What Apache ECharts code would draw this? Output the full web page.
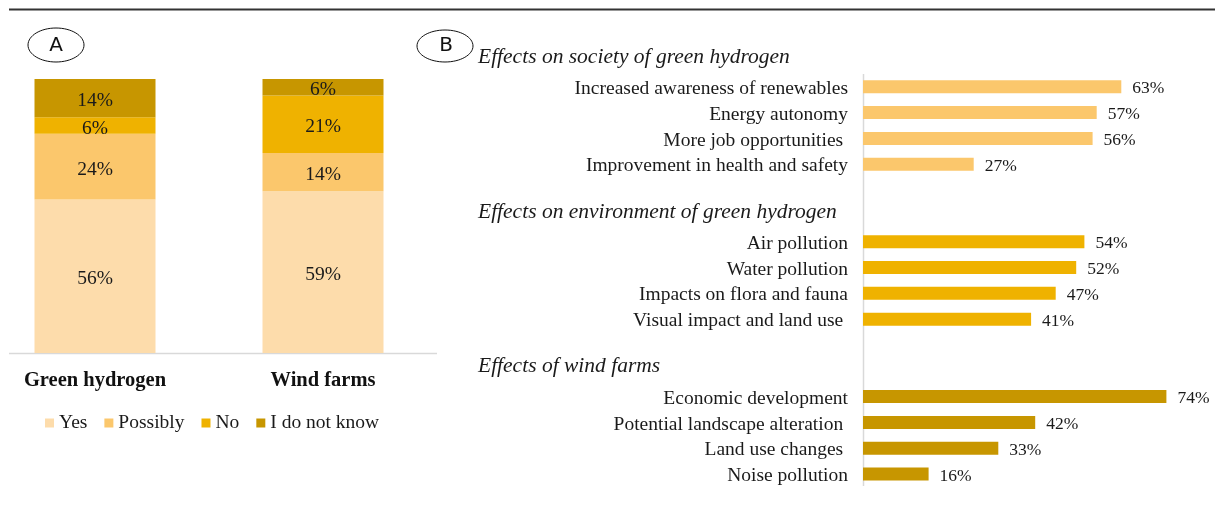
<!DOCTYPE html>
<html>
<head>
<meta charset="utf-8">
<script src="https://cdn.jsdelivr.net/npm/echarts@6/dist/echarts.min.js"></script>
<style>
  html, body { margin: 0; padding: 0; background: #fff; }
  #chart { width: 1215px; height: 513px; }
</style>
</head>
<body>
<div id="chart"></div>
<script>
// panel A
var groups = ['Green hydrogen', 'Wind farms'];
var answers = ['Yes', 'Possibly', 'No', 'I do not know'];
var yesValues = [56, 59];
var possiblyValues = [24, 14];
var noValues = [6, 21];
var unknownValues = [14, 6];

// panel B
var societyHeader = 'Effects on society of green hydrogen';
var societyItems = ['Increased awareness of renewables', 'Energy autonomy', 'More job opportunities ', 'Improvement in health and safety'];
var societyValues = [63, 57, 56, 27];
var environmentHeader = 'Effects on environment of green hydrogen';
var environmentItems = ['Air pollution', 'Water pollution', 'Impacts on flora and fauna', 'Visual impact and land use '];
var environmentValues = [54, 52, 47, 41];
var windHeader = 'Effects of wind farms';
var windItems = ['Economic development', 'Potential landscape alteration ', 'Land use changes ', 'Noise pollution'];
var windValues = [74, 42, 33, 16];

var answerColors = ['#FDDCAB', '#FBC76C', '#EFB200', '#C79600'];
var sectionColors = ['#FBC76C', '#EFB200', '#C79600'];
var serif = '"Liberation Serif", "DejaVu Serif", serif';

var myChart = echarts.init(document.getElementById('chart'));

// rows of panel B: header, 4 items, blank, header, 4 items, blank, header, 4 items
var rows = [];
var headerRows = {};
var sections = [
  [societyHeader, societyItems, societyValues],
  [environmentHeader, environmentItems, environmentValues],
  [windHeader, windItems, windValues]
];
var sectionData = [[], [], []];
sections.forEach(function (s, si) {
  if (si > 0) {
    rows.push(' '.repeat(si));
    sectionData.forEach(function (d) { d.push('-'); });
  }
  headerRows[s[0]] = true;
  rows.push(s[0]);
  sectionData.forEach(function (d) { d.push('-'); });
  s[1].forEach(function (name, i) {
    rows.push(name);
    sectionData.forEach(function (d, di) { d.push(di === si ? s[2][i] : '-'); });
  });
});

var pctLabel = function (p) { return p.value + '%'; };

var seriesA = [yesValues, possiblyValues, noValues, unknownValues].map(function (vals, i) {
  return {
    name: answers[i],
    type: 'bar',
    stack: 'a',
    xAxisIndex: 0,
    yAxisIndex: 0,
    barWidth: 121,
    itemStyle: { color: answerColors[i] },
    label: {
      show: true,
      position: 'inside',
      offset: [0, 3],
      formatter: pctLabel,
      fontFamily: serif,
      fontSize: 19.5,
      color: '#1a1a1a'
    },
    data: vals
  };
});

var seriesB = sectionData.map(function (vals, i) {
  return {
    name: 'section' + i,
    type: 'bar',
    stack: 'b',
    xAxisIndex: 1,
    yAxisIndex: 1,
    barWidth: 13,
    itemStyle: { color: sectionColors[i] },
    label: {
      show: true,
      position: 'right',
      distance: 11,
      offset: [0, 2],
      formatter: pctLabel,
      fontFamily: serif,
      fontSize: 17.5,
      color: '#1a1a1a'
    },
    data: vals
  };
});

var option = {
  backgroundColor: '#fff',
  animation: false,
  legend: {
    data: answers,
    left: 40,
    top: 408,
    itemWidth: 9,
    itemHeight: 9,
    itemGap: 17,
    icon: 'rect',
    textStyle: { fontFamily: serif, fontSize: 19.5, color: '#1a1a1a' }
  },
  grid: [
    { left: -19, top: 79, width: 456, height: 274, outerBoundsMode: 'none', containLabel: false },
    { left: 863, top: 48, width: 328, height: 439, outerBoundsMode: 'none', containLabel: false }
  ],
  xAxis: [{
    type: 'category',
    gridIndex: 0,
    data: groups,
    axisLine: { show: false },
    axisTick: { show: false },
    axisLabel: {
      margin: 17,
      fontFamily: serif,
      fontSize: 20.5,
      fontWeight: 'bold',
      color: '#111'
    }
  }, {
    type: 'value',
    gridIndex: 1,
    min: 0,
    max: 80,
    show: false
  }],
  yAxis: [{
    type: 'value',
    gridIndex: 0,
    min: 0,
    max: 100,
    show: false
  }, {
    type: 'category',
    gridIndex: 1,
    inverse: true,
    data: rows,
    axisLine: { show: false },
    axisTick: { show: false },
    axisLabel: {
      margin: 15,
      interval: 0,
      fontFamily: serif,
      fontSize: 19.5,
      color: '#1a1a1a',
      formatter: function (v) {
        return headerRows[v] ? '{h|' + v + '}' : '{t|' + v + '}';
      },
      rich: {
        t: {
          fontFamily: serif,
          fontSize: 19.5,
          color: '#1a1a1a',
          padding: [4, 0, 0, 0]
        },
        h: {
          width: 370,
          align: 'left',
          fontFamily: serif,
          fontSize: 21.5,
          fontStyle: 'italic',
          color: '#1a1a1a',
          padding: [0, 0, 8, 0]
        }
      }
    }
  }],
  graphic: [
    { type: 'line', shape: { x1: 9, y1: 9.5, x2: 1215, y2: 9.5 }, style: { stroke: '#333', lineWidth: 2 } },
    { type: 'line', shape: { x1: 9, y1: 353.5, x2: 437, y2: 353.5 }, style: { stroke: '#d9d9d9', lineWidth: 1.5 } },
    { type: 'line', shape: { x1: 863.5, y1: 74, x2: 863.5, y2: 486 }, style: { stroke: '#d9d9d9', lineWidth: 1.5 } },
    { type: 'ellipse', shape: { cx: 56, cy: 45, rx: 28, ry: 17 }, style: { fill: '#fff', stroke: '#111', lineWidth: 1 } },
    { type: 'text', x: 56, y: 46, style: { text: 'A', fontFamily: '"DejaVu Sans", sans-serif', fontSize: 20, fill: '#111', align: 'center', verticalAlign: 'middle' } },
    { type: 'ellipse', shape: { cx: 445, cy: 46, rx: 28, ry: 16 }, style: { fill: 'none', stroke: '#111', lineWidth: 1 } },
    { type: 'text', x: 446, y: 46, style: { text: 'B', fontFamily: '"DejaVu Sans", sans-serif', fontSize: 20, fill: '#111', align: 'center', verticalAlign: 'middle' } }
  ],
  series: seriesA.concat(seriesB)
};

myChart.setOption(option);
</script>
</body>
</html>
